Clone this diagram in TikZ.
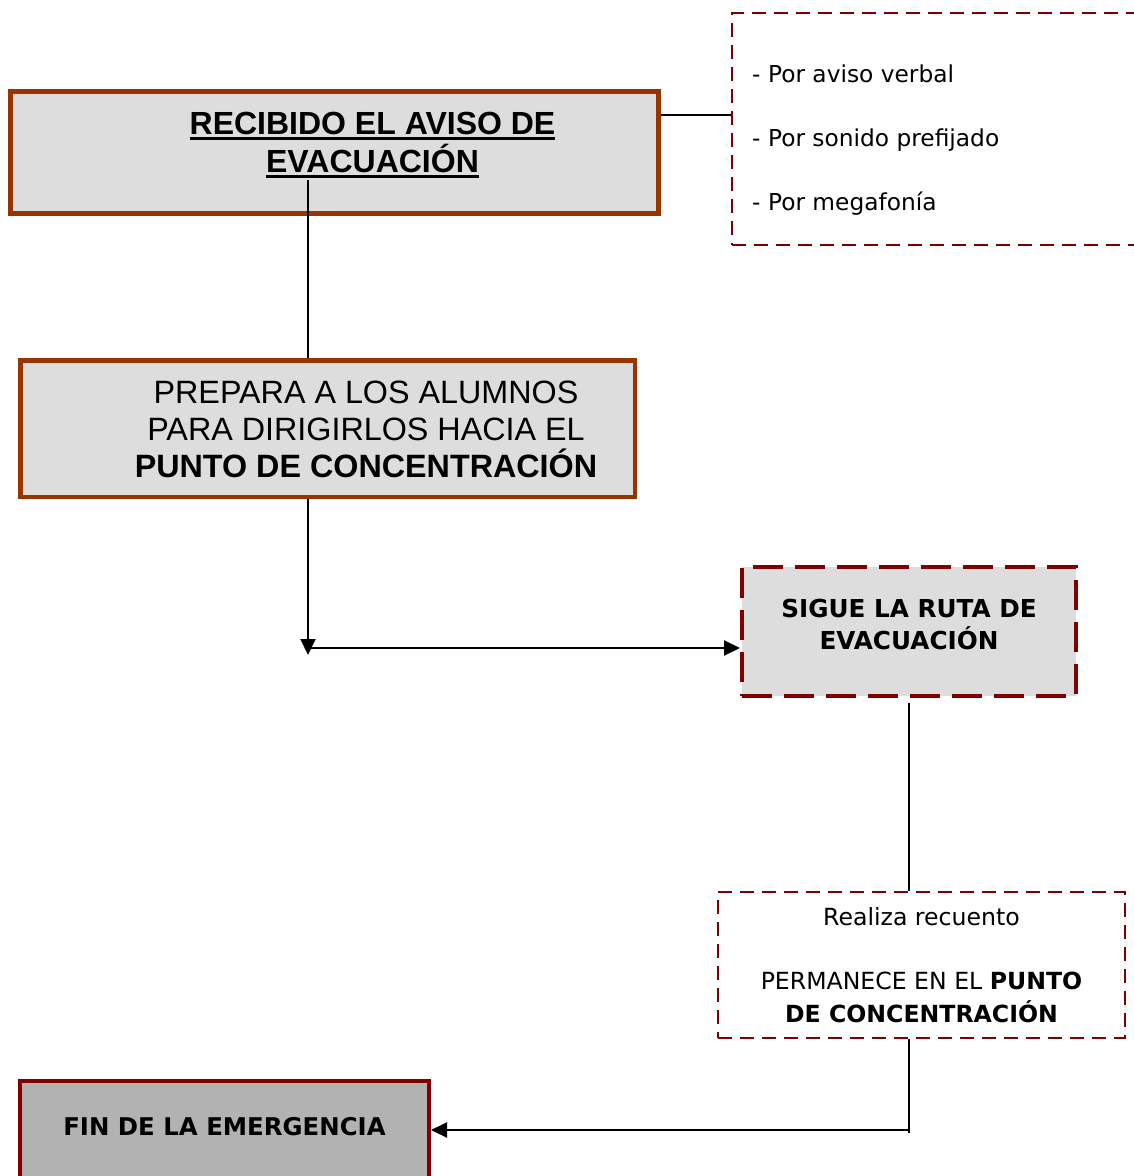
\documentclass[tikz,border=0pt]{standalone}
\usepackage{fontspec}
\setmainfont{Liberation Sans}
\newfontfamily\verdana{DejaVu Sans}
\usetikzlibrary{arrows.meta,positioning,calc}
\definecolor{marron}{HTML}{993300}
\definecolor{granate}{HTML}{800000}
\definecolor{grisclaro}{HTML}{DDDDDD}
\definecolor{grisfin}{HTML}{B2B2B2}
\newcommand{\subrayado}[1]{\setbox0\hbox{#1}\rlap{\rule[-5.7pt]{\wd0}{3.3pt}}\box0}

\begin{document}
\begin{tikzpicture}[x=1pt,y=-1pt,
  caja/.style={draw=marron,fill=grisclaro,line width=5pt,inner sep=0pt},
  trazos/.style={draw=granate,line width=2pt,dash pattern=on 14pt off 8pt,inner sep=0pt},
  linea/.style={line width=2pt},
  flecha/.style={line width=2pt,-{Triangle[length=16pt,width=15pt]}}]
\useasboundingbox (0,0) rectangle (1134,1176);
% ---- aviso de evacuacion ----
\node[caja,minimum width=648pt,minimum height=122pt] (aviso) at (334.5,152.5) {};
\node[font=\fontsize{32}{38}\selectfont\bfseries,align=center,inner sep=0pt] (avisotxt) at (372.5,145)
  {\subrayado{RECIBIDO EL AVISO DE}\\\subrayado{EVACUACIÓN}};
% ---- medios de aviso ----
\node[trazos,minimum width=418pt,minimum height=232pt] (medios) at (941,129) {};
\node[font=\verdana\fontsize{23.3}{64}\selectfont,align=left,anchor=west,inner sep=0pt] (mediostxt) at (752,140)
  {- Por aviso verbal\\- Por sonido prefijado\\- Por megafonía};
% ---- prepara a los alumnos ----
\node[caja,line width=4.5pt,minimum width=614.5pt,minimum height=136.5pt] (prepara) at (327.5,428.5) {};
\node[font=\fontsize{32.3}{37}\selectfont,align=center,inner sep=0pt] (preparatxt) at (366,429)
  {PREPARA A LOS ALUMNOS\\PARA DIRIGIRLOS HACIA EL\\\textbf{PUNTO DE CONCENTRACIÓN}};
% ---- ruta ----
\node[caja,draw=granate,line width=4pt,dash pattern=on 30pt off 12pt,minimum width=334pt,minimum height=129pt] (ruta) at (909,631.5) {};
\node[font=\verdana\bfseries\fontsize{24.7}{32}\selectfont,align=center,inner sep=0pt] (rutatxt) at (909,624)
  {SIGUE LA RUTA DE\\EVACUACIÓN};
% ---- recuento ----
\node[trazos,minimum width=407pt,minimum height=146pt,align=center,font=\verdana\fontsize{23.6}{33}\selectfont] (recuento) at (921.5,965)
  {Realiza recuento\\[31pt]PERMANECE EN EL \textbf{PUNTO}\\\textbf{DE CONCENTRACIÓN}};
% ---- fin ----
\node[caja,draw=granate,fill=grisfin,line width=4pt,minimum width=409pt,minimum height=100pt,
  font=\verdana\bfseries\fontsize{24.4}{30}\selectfont,text height=18pt,text depth=10pt] (fin) at (224.5,1131)
  {FIN DE LA EMERGENCIA};
% ---- conectores ----
\coordinate (b1) at (308,180);
\coordinate (codo) at (308,648);
\coordinate (codo2) at (909,1130);
\draw[linea,line width=1.5pt] ([yshift=14pt]medios.west) -- ([yshift=14pt]medios.west -| aviso.east);
\draw[linea] (b1) -- (b1 |- prepara.north);
\draw[flecha] (codo |- prepara.south) -- ([yshift=-7pt]codo);
\draw[flecha] (codo) -- (codo -| ruta.west);
\draw[linea] ([yshift=-5pt]ruta.south) -- (ruta.south |- recuento.north);
\draw[linea] (codo2 |- recuento.south) -- ([yshift=-3pt]codo2);
\draw[flecha] (codo2) -- (codo2 -| fin.east);
\end{tikzpicture}
\end{document}
